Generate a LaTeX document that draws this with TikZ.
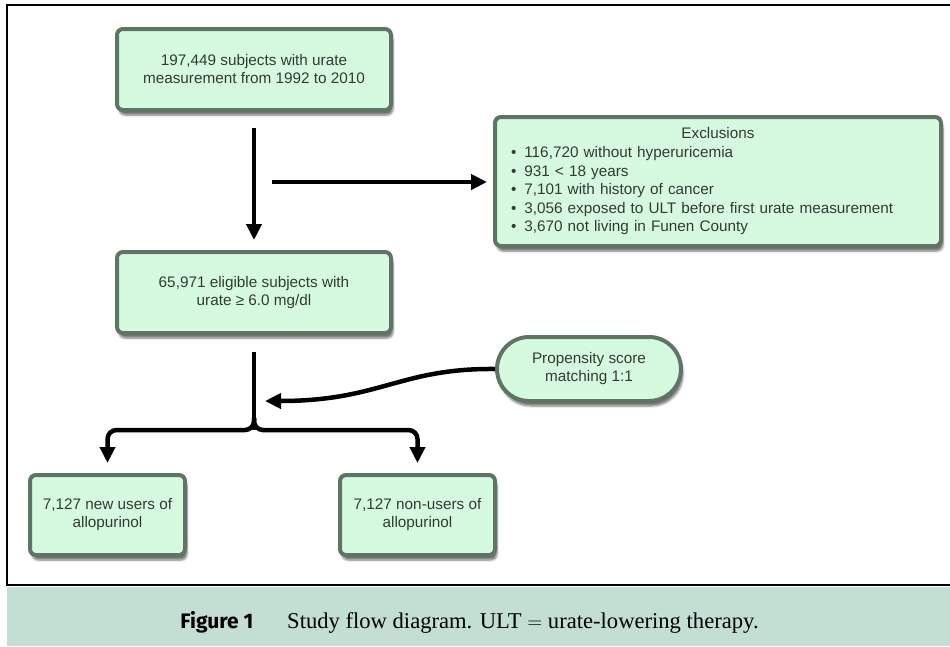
\documentclass[tikz,border=0pt]{standalone}
\usepackage{fontspec}
\setmainfont{Liberation Sans}
\newfontfamily\capserif{Liberation Serif}
\newfontfamily\capsans{Fira Sans}
\usetikzlibrary{arrows.meta,shadows.blur}
\definecolor{boxfill}{HTML}{D5FADF}
\definecolor{boxline}{HTML}{5E7566}
\definecolor{boxtext}{HTML}{333A35}
\definecolor{capband}{HTML}{C3DED3}
\tikzset{
  fbox/.style={draw=boxline, line width=4pt, fill=boxfill, rounded corners=6pt,
    blur shadow={shadow xshift=2pt, shadow yshift=-5pt, shadow blur steps=6, shadow opacity=55},
    text=boxtext, align=center, font=\fontsize{15.3}{18}\selectfont, inner sep=0pt},
  arr/.style={line width=4.5pt, -{Triangle[width=15pt,length=16pt]}},
  plainline/.style={line width=4.5pt}
}
\begin{document}
\begin{tikzpicture}[x=1pt,y=-1pt]
\useasboundingbox (0,0) rectangle (950,646);
% caption band and frame
\fill[capband] (7,587) rectangle (950,646);
\draw[line width=2.5pt] (950,5) -- (7,5) -- (7,585) -- (950,585);
\node[anchor=base east, font=\capsans\bfseries\fontsize{21}{24}\selectfont] (figlab) at (257,628) {Figure 1};
\node[anchor=base west, font=\capserif\fontsize{22.6}{26}\selectfont, inner sep=0pt] (captxt) at (287,628) {Study flow diagram. ULT $=$ urate-lowering therapy.};
% boxes
\node[fbox, minimum width=274pt, minimum height=81pt] (b1) at (254,69.5) {197,449 subjects with urate\\measurement from 1992 to 2010};
\node[fbox, minimum width=274pt, minimum height=81pt] (b3) at (254,292.5) {65,971 eligible subjects with\\urate ≥ 6.0 mg/dl};
\node[fbox, minimum width=446pt, minimum height=129pt, text width=446pt, align=left, font=\fontsize{15.3}{18.6}\selectfont] (excl) at (718,181.5)
 {\makebox[446pt]{Exclusions}\\
  \hspace*{16pt}\textbullet\hspace{8pt}116,720 without hyperuricemia\\
  \hspace*{16pt}\textbullet\hspace{8pt}931 < 18 years\\
  \hspace*{16pt}\textbullet\hspace{8pt}7,101 with history of cancer\\
  \hspace*{16pt}\textbullet\hspace{8pt}3,056 exposed to ULT before first urate measurement\\
  \hspace*{16pt}\textbullet\hspace{8pt}3,670 not living in Funen County};
\node[fbox, rounded corners=32pt, minimum width=184pt, minimum height=64pt] (prop) at (589,369) {Propensity score\\matching 1:1};
\node[fbox, minimum width=155pt, minimum height=80pt] (bl) at (107.5,515) {7,127 new users of\\allopurinol};
\node[fbox, minimum width=155pt, minimum height=80pt] (br) at (417.5,515) {7,127 non-users of\\allopurinol};
% connectors
\coordinate (a1s) at (254,128);
\coordinate (a1e) at (254,240);
\draw[arr] (a1s) -- (a1e);
\coordinate (hs) at (272,182);
\draw[arr, shorten >=6pt] (hs) -- (hs -| excl.west);
\coordinate (vs) at (254,352);
\coordinate (jn) at (254,430);
\draw[plainline, rounded corners=9pt] (vs) -- (jn);
\draw[arr, rounded corners=9pt, shorten >=10pt] (254,418) -- (jn) -| (bl.north);
\draw[arr, rounded corners=9pt, shorten >=10pt] (254,418) -- (jn) -| (br.north);
\coordinate (ptip) at (265,401);
\draw[arr] (prop.west) .. controls (400,368) and (380,401) .. (ptip);
\end{tikzpicture}
\end{document}
